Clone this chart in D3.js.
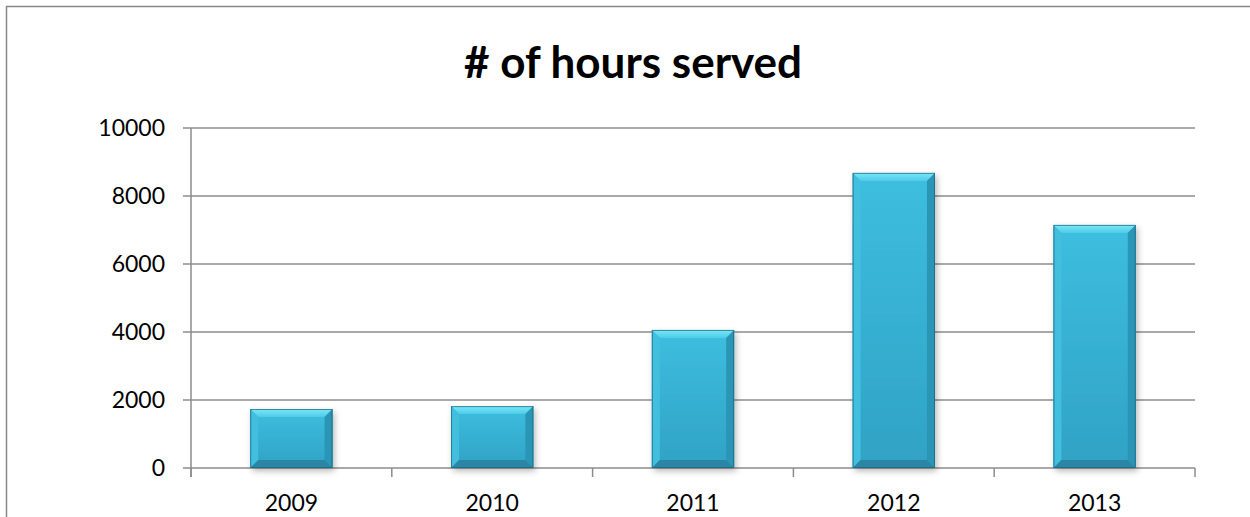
<!DOCTYPE html>
<html>
<head>
<meta charset="utf-8">
<title># of hours served</title>
<script src="https://d3js.org/d3.v7.min.js"></script>
<style>
  body { margin: 0; background: #fff; }
  svg { display: block; font-family: Lato, "Open Sans", sans-serif; }
</style>
</head>
<body>
<div id="chart"></div>
<script>
// data
const years = ["2009", "2010", "2011", "2012", "2013"];
const hours = [1735, 1820, 4060, 8680, 7150];
const yTicks = [0, 2000, 4000, 6000, 8000, 10000];

const width = 1250, height = 517;
const margin = {top: 128, right: 55, bottom: 49, left: 191};

const svg = d3.select("#chart").append("svg")
  .attr("width", width)
  .attr("height", height);

// chart frame
svg.append("rect")
  .attr("x", 6.5).attr("y", 6.5)
  .attr("width", width).attr("height", height)
  .attr("fill", "none")
  .attr("stroke", "#888")
  .attr("stroke-width", 1.5);

svg.append("text")
  .attr("x", 633).attr("y", 78)
  .attr("text-anchor", "middle")
  .attr("font-size", 44)
  .attr("font-weight", "bold")
  .text("# of hours served");

const x = d3.scaleBand()
  .domain(years)
  .range([margin.left, width - margin.right])
  .paddingInner(0.59)
  .paddingOuter(0.295);

const xb = d3.scaleBand()
  .domain(years)
  .range([margin.left, width - margin.right]);

const y = d3.scaleLinear()
  .domain([0, 10000])
  .range([height - margin.bottom, margin.top]);

const defs = svg.append("defs");
const grad = defs.append("linearGradient")
  .attr("id", "barFill").attr("x1", 0).attr("y1", 0).attr("x2", 0).attr("y2", 1);
grad.append("stop").attr("offset", "0%").attr("stop-color", "#3dbee0");
grad.append("stop").attr("offset", "100%").attr("stop-color", "#30a2c4");

const topGrad = defs.append("linearGradient")
  .attr("id", "topFill").attr("x1", 0).attr("y1", 0).attr("x2", 0).attr("y2", 1);
topGrad.append("stop").attr("offset", "0%").attr("stop-color", "#7ae8f8");
topGrad.append("stop").attr("offset", "100%").attr("stop-color", "#4ecbe8");

const shadow = defs.append("filter").attr("id", "shadow")
  .attr("x", "-10%").attr("y", "-10%").attr("width", "130%").attr("height", "130%");
shadow.append("feDropShadow")
  .attr("dx", 2).attr("dy", 3).attr("stdDeviation", 3)
  .attr("flood-color", "#000").attr("flood-opacity", 0.28);

// gridlines
svg.append("g")
  .selectAll("line")
  .data(yTicks)
  .join("line")
  .attr("x1", margin.left - 8)
  .attr("x2", width - margin.right)
  .attr("y1", d => y(d))
  .attr("y2", d => y(d))
  .attr("stroke", "#8c8c8c")
  .attr("stroke-width", 1.5);

// y axis line
svg.append("line")
  .attr("x1", margin.left).attr("x2", margin.left)
  .attr("y1", y(10000)).attr("y2", y(0) + 9)
  .attr("stroke", "#8c8c8c").attr("stroke-width", 1.5);

// x tick marks at category boundaries
const bounds = years.map(d => xb(d)).concat([width - margin.right]);
svg.append("g")
  .selectAll("line")
  .data(bounds)
  .join("line")
  .attr("x1", d => d).attr("x2", d => d)
  .attr("y1", y(0)).attr("y2", y(0) + 9)
  .attr("stroke", "#8c8c8c").attr("stroke-width", 1.5);

// y labels
svg.append("g")
  .selectAll("text")
  .data(yTicks)
  .join("text")
  .attr("x", 165)
  .attr("y", d => y(d))
  .attr("dy", "0.36em")
  .attr("text-anchor", "end")
  .attr("font-size", 23)
  .text(d => d);

// x labels
svg.append("g")
  .selectAll("text")
  .data(years)
  .join("text")
  .attr("x", d => x(d) + x.bandwidth() / 2)
  .attr("y", 511)
  .attr("text-anchor", "middle")
  .attr("font-size", 23)
  .text(d => d);

// bars with bevel
const bev = 8;
const bars = svg.append("g")
  .selectAll("g")
  .data(years.map((d, i) => ({year: d, value: hours[i]})))
  .join("g");

bars.append("rect")
  .attr("x", d => x(d.year))
  .attr("y", d => y(d.value))
  .attr("width", x.bandwidth())
  .attr("height", d => y(0) - y(d.value))
  .attr("fill", "url(#barFill)")
  .attr("filter", "url(#shadow)");

function facet(d, side) {
  const x0 = x(d.year), x1 = x0 + x.bandwidth();
  const y0 = y(d.value), y1 = y(0);
  const b = Math.min(bev, (y1 - y0) / 2);
  const pts = {
    top:    [[x0, y0], [x1, y0], [x1 - b, y0 + b], [x0 + b, y0 + b]],
    left:   [[x0, y0], [x0 + b, y0 + b], [x0 + b, y1 - b], [x0, y1]],
    right:  [[x1, y0], [x1, y1], [x1 - b, y1 - b], [x1 - b, y0 + b]],
    bottom: [[x0, y1], [x0 + b, y1 - b], [x1 - b, y1 - b], [x1, y1]]
  };
  return "M" + pts[side].join("L") + "Z";
}

const facetColors = {top: "url(#topFill)", left: "#42bfdf", right: "#2b95b5", bottom: "#2a86a4"};
["top", "left", "right", "bottom"].forEach(side => {
  bars.append("path")
    .attr("d", d => facet(d, side))
    .attr("fill", facetColors[side]);
});

bars.append("rect")
  .attr("x", d => x(d.year) + 0.5)
  .attr("y", d => y(d.value) + 0.5)
  .attr("width", x.bandwidth() - 1)
  .attr("height", d => y(0) - y(d.value) - 1)
  .attr("fill", "none")
  .attr("stroke", "#1a6178")
  .attr("stroke-opacity", 0.7)
  .attr("stroke-width", 1);
</script>
</body>
</html>
